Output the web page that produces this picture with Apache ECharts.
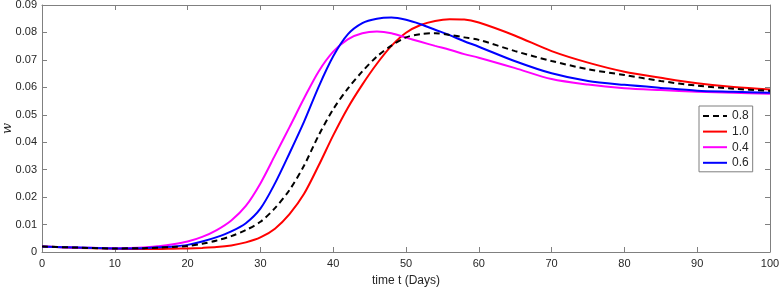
<!DOCTYPE html>
<html lang="en">
<head>
    <meta charset="utf-8">
    <title>w over time</title>
    <script src="https://cdn.jsdelivr.net/npm/echarts@6/dist/echarts.min.js"></script>
    <style>
        html, body { margin: 0; padding: 0; background: #fff; }
        #chart { width: 779px; height: 287px; }
    </style>
</head>
<body>
<div id="chart"></div>
<script type="text/javascript">
    // time points (days)
    var days = [0, 5, 10, 14, 16, 18, 20, 22, 24, 26, 28, 30, 32, 34, 36, 38, 40, 42, 44, 46, 48,
        50, 52, 54, 56, 58, 60, 65, 70, 75, 80, 85, 90, 95, 100];

    // w values per parameter
    var w08 = [0.0020, 0.0016, 0.0013, 0.0014, 0.0016, 0.0018, 0.0022, 0.0030, 0.0042, 0.0058, 0.0080,
        0.0110, 0.0160, 0.0226, 0.0315, 0.0425, 0.0520, 0.0595, 0.0658, 0.0712, 0.0752,
        0.0782, 0.0794, 0.0797, 0.0791, 0.0782, 0.0773, 0.0732, 0.0696, 0.0666,
        0.0645, 0.0623, 0.0606, 0.0595, 0.0587];
    var w10 = [0.0020, 0.0015, 0.0012, 0.0011, 0.0011, 0.0012, 0.0013, 0.0015, 0.0018, 0.0024, 0.0035,
        0.0053, 0.0085, 0.0138, 0.0212, 0.0315, 0.0425, 0.0525, 0.0610, 0.0686, 0.0751,
        0.0799, 0.0827, 0.0842, 0.0848, 0.0847, 0.0836, 0.0788, 0.0732, 0.0690,
        0.0657, 0.0635, 0.0615, 0.0601, 0.0592];
    var w04 = [0.0020, 0.0016, 0.0014, 0.0016, 0.0021, 0.0028, 0.0038, 0.0055, 0.0080, 0.0115, 0.0168,
        0.0250, 0.0352, 0.0455, 0.0560, 0.0658, 0.0730, 0.0775, 0.0797, 0.0803, 0.0797,
        0.0781, 0.0766, 0.0751, 0.0737, 0.0721, 0.0708, 0.0670, 0.0630, 0.0610,
        0.0597, 0.0590, 0.0584, 0.0580, 0.0577];
    var w06 = [0.0020, 0.0016, 0.0013, 0.0014, 0.0017, 0.0020, 0.0026, 0.0038, 0.0054, 0.0075, 0.0105,
        0.0158, 0.0250, 0.0360, 0.0475, 0.0602, 0.0713, 0.0793, 0.0834, 0.0850, 0.0854,
        0.0846, 0.0830, 0.0810, 0.0790, 0.0768, 0.0748, 0.0695, 0.0651, 0.0623,
        0.0609, 0.0598, 0.0588, 0.0584, 0.0580];

    var seriesNames = ['0.8', '1.0', '0.4', '0.6'];
    var seriesData = [w08, w10, w04, w06];
    var seriesColors = ['#000000', '#ff0000', '#ff00ff', '#0000ff'];

    function pairs(ys) {
        return days.map(function (t, i) { return [t, ys[i]]; });
    }

    var axisGray = '#808080';
    var labelColor = '#262626';
    var font = 'Liberation Sans';

    var chart = echarts.init(document.getElementById('chart'));

    var option = {
        animation: false,
        grid: { left: 42, right: 9, top: 5, bottom: 35, containLabel: false, outerBoundsMode: 'none' },
        legend: {
            data: seriesNames,
            orient: 'vertical',
            left: 699,
            top: 106,
            padding: [4, 4, 3, 3],
            itemWidth: 24,
            itemHeight: 14,
            itemGap: 3.6,
            itemTextGap: 4,
            itemStyle: { opacity: 0 },
            backgroundColor: '#fff',
            borderColor: '#7f7f7f',
            borderWidth: 1,
            borderRadius: 0,
            textStyle: { fontFamily: font, fontSize: 12, color: labelColor }
        },
        xAxis: [{
            type: 'value',
            min: 0, max: 100, interval: 10,
            name: 'time t (Days)',
            nameLocation: 'middle',
            nameGap: 23,
            nameMoveOverlap: false,
            nameTextStyle: { fontFamily: font, fontSize: 12, color: labelColor },
            axisLine: { show: true, onZero: false, lineStyle: { color: axisGray } },
            axisTick: { show: true, inside: true, length: 5, lineStyle: { color: axisGray } },
            axisLabel: { fontFamily: font, fontSize: 11, color: labelColor, margin: 6 },
            splitLine: { show: false }
        }, {
            type: 'value', position: 'top',
            min: 0, max: 100, interval: 10,
            axisLine: { show: true, onZero: false, lineStyle: { color: axisGray } },
            axisTick: { show: true, inside: true, length: 5, lineStyle: { color: axisGray } },
            axisLabel: { show: false },
            splitLine: { show: false }
        }],
        yAxis: [{
            type: 'value',
            min: 0, max: 0.09, interval: 0.01,
            name: 'w',
            nameLocation: 'middle',
            nameGap: 28,
            nameMoveOverlap: false,
            nameRotate: 90,
            nameTextStyle: { fontFamily: 'DejaVu Serif', fontStyle: 'italic', fontSize: 13, color: labelColor },
            axisLine: { show: true, onZero: false, lineStyle: { color: axisGray } },
            axisTick: { show: true, inside: true, length: 5, lineStyle: { color: axisGray } },
            axisLabel: {
                fontFamily: font, fontSize: 11, color: labelColor, margin: 5,
                formatter: function (v) { return v === 0 ? '0' : v.toFixed(2); }
            },
            splitLine: { show: false }
        }, {
            type: 'value', position: 'right',
            min: 0, max: 0.09, interval: 0.01,
            axisLine: { show: true, onZero: false, lineStyle: { color: axisGray } },
            axisTick: { show: true, inside: true, length: 5, lineStyle: { color: axisGray } },
            axisLabel: { show: false },
            splitLine: { show: false }
        }],
        series: seriesNames.map(function (name, i) {
            return {
                name: name,
                type: 'line',
                data: pairs(seriesData[i]),
                smooth: 0.3,
                showSymbol: false,
                symbol: 'none',
                color: seriesColors[i],
                lineStyle: {
                    width: 2,
                    color: seriesColors[i],
                    type: i === 0 ? [6, 4] : 'solid'
                },
                z: i === 0 ? 6 : 3
            };
        })
    };

    chart.setOption(option);
</script>
</body>
</html>
